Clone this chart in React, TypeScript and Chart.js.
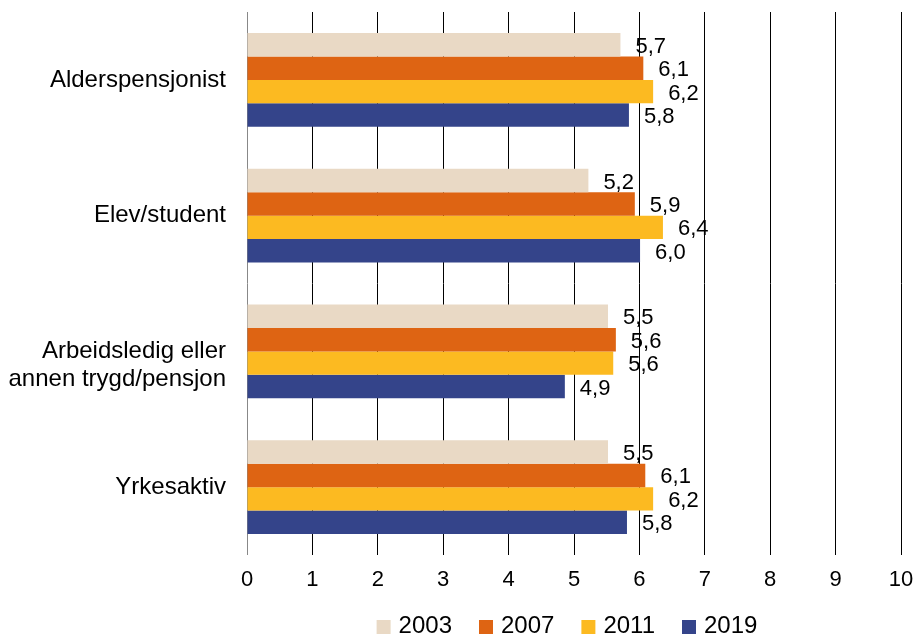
import React, { useEffect, useRef } from 'react';
import { Chart, registerables } from 'chart.js';

Chart.register(...registerables);

const categories: (string | string[])[] = [
  'Alderspensjonist',
  'Elev/student',
  ['', 'Arbeidsledig eller', 'annen trygd/pensjon'],
  'Yrkesaktiv',
];
const years = ['2003', '2007', '2011', '2019'];
const values2003 = [5.71, 5.22, 5.52, 5.52];
const values2007 = [6.06, 5.93, 5.64, 6.09];
const values2011 = [6.21, 6.36, 5.6, 6.21];
const values2019 = [5.84, 6.01, 4.86, 5.81];
const xMin = 0;
const xMax = 10;
const xStep = 1;

const colors = ['#E9D9C5', '#DE6413', '#FCBA21', '#34448A'];
const FONT = "'Liberation Sans', Arial, Helvetica, sans-serif";

const fmt = (v: number) => v.toFixed(1).replace('.', ',');

const dataLabelPlugin = {
  id: 'dataLabels',
  afterDatasetsDraw(chart: any) {
    const ctx = chart.ctx;
    ctx.save();
    ctx.font = `22px ${FONT}`;
    ctx.fillStyle = '#000';
    ctx.textAlign = 'left';
    ctx.textBaseline = 'middle';
    chart.data.datasets.forEach((ds: any, di: number) => {
      const meta = chart.getDatasetMeta(di);
      meta.data.forEach((el: any, i: number) => {
        ctx.fillText(fmt(ds.data[i]), el.x + 15, el.y + 2);
      });
    });
    ctx.restore();
  },
};

const legendPlugin = {
  id: 'customLegend',
  afterDraw(chart: any) {
    const ctx = chart.ctx;
    ctx.save();
    ctx.font = `24px ${FONT}`;
    ctx.textBaseline = 'alphabetic';
    ctx.textAlign = 'left';
    const box = 14;
    const gap = 8;
    const spacing = 27;
    const items = chart.data.datasets.map((ds: any) => ({
      text: ds.label,
      color: ds.backgroundColor,
      w: ctx.measureText(ds.label).width,
    }));
    const total =
      items.reduce((s: number, it: any) => s + box + gap + it.w, 0) + spacing * (items.length - 1);
    const centerX = (chart.chartArea.left + chart.chartArea.right) / 2 - 7;
    let x = centerX - total / 2;
    const baseY = chart.height - 1;
    items.forEach((it: any) => {
      ctx.fillStyle = it.color;
      ctx.fillRect(x, baseY - box + 1, box, box);
      ctx.fillStyle = '#000';
      ctx.fillText(it.text, x + box + gap, baseY);
      x += box + gap + it.w + spacing;
    });
    ctx.restore();
  },
};

export default function App() {
  const ref = useRef<HTMLCanvasElement | null>(null);

  useEffect(() => {
    if (!ref.current) return;
    const series = [values2003, values2007, values2011, values2019];
    const chart = new Chart(ref.current, {
      type: 'bar',
      data: {
        labels: categories,
        datasets: years.map((y, i) => ({
          label: y,
          data: series[i],
          backgroundColor: colors[i],
          borderWidth: 0,
          categoryPercentage: 0.69,
          barPercentage: 1,
        })),
      },
      options: {
        indexAxis: 'y',
        animation: false,
        responsive: false,
        maintainAspectRatio: false,
        layout: { padding: { top: 12, right: 16, left: 0, bottom: 0 } },
        plugins: {
          legend: { display: false },
          tooltip: { enabled: false },
        },
        scales: {
          x: {
            min: xMin,
            max: xMax,
            ticks: {
              stepSize: xStep,
              color: '#000',
              font: { family: FONT, size: 22 },
              padding: 12,
            },
            grid: {
              color: (c: any) => (c.tick && c.tick.value === 0 ? '#888' : '#000'),
              lineWidth: 1,
              drawTicks: false,
            },
            border: { display: false },
            afterFit: (scale: any) => {
              scale.height = 79;
              scale.paddingLeft = 0;
              scale.paddingRight = 0;
            },
          },
          y: {
            ticks: {
              color: '#000',
              font: { family: FONT, size: 24, lineHeight: 1.18 },
              padding: 21,
            },
            grid: { display: false, drawTicks: false },
            border: { display: false },
            afterFit: (scale: any) => {
              scale.width = 247;
              scale.paddingTop = 0;
              scale.paddingBottom = 0;
            },
          },
        },
      },
      plugins: [dataLabelPlugin, legendPlugin],
    });
    return () => chart.destroy();
  }, []);

  return (
    <div style={{ position: 'absolute', left: 0, top: 0, width: 917, height: 634, background: '#fff' }}>
      <canvas ref={ref} width={917} height={634} style={{ display: 'block' }} />
    </div>
  );
}
